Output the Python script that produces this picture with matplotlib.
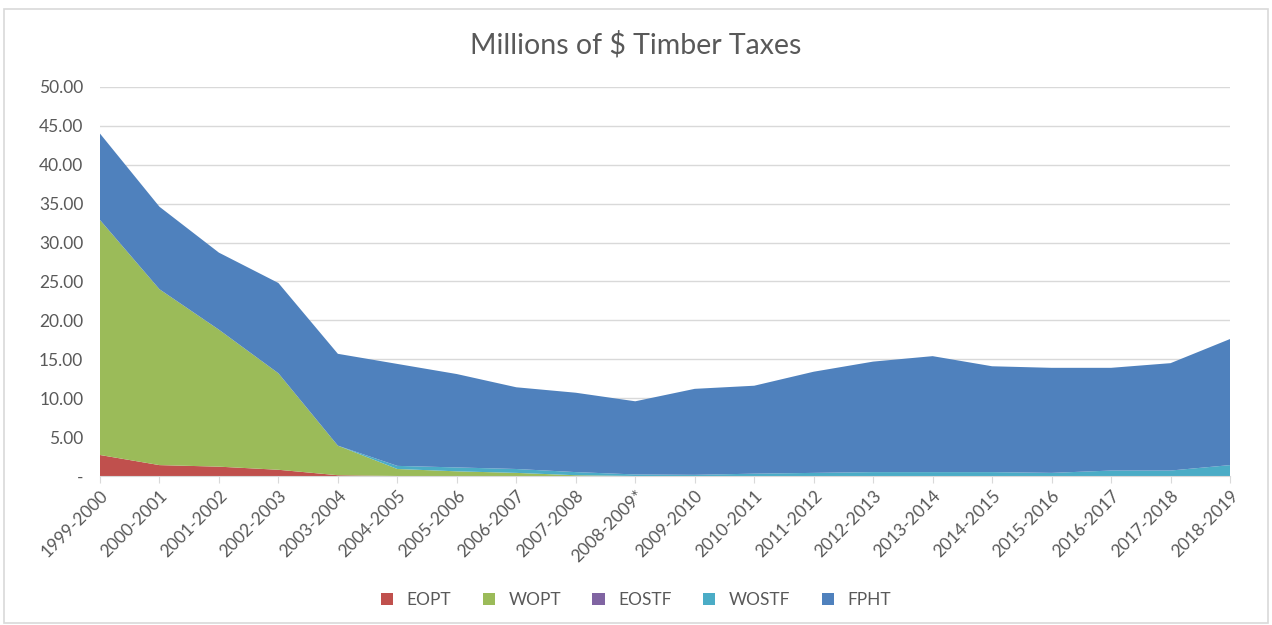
import numpy as np
import matplotlib
matplotlib.use('Agg')
from matplotlib import pyplot as plt
from matplotlib.patches import Rectangle

plt.rcParams['font.family'] = ['Lato', 'DejaVu Sans']

years = ['1999-2000', '2000-2001', '2001-2002', '2002-2003', '2003-2004',
         '2004-2005', '2005-2006', '2006-2007', '2007-2008', '2008-2009*',
         '2009-2010', '2010-2011', '2011-2012', '2012-2013', '2013-2014',
         '2014-2015', '2015-2016', '2016-2017', '2017-2018', '2018-2019']

eopt = [2.7, 1.4, 1.2, 0.8, 0.1, 0, 0, 0, 0, 0, 0, 0, 0, 0, 0, 0, 0, 0, 0, 0]
wopt = [30.2, 22.6, 17.6, 12.4, 3.8, 0.9, 0.6, 0.4, 0.1, 0, 0, 0, 0, 0, 0, 0, 0, 0, 0, 0]
eostf = [0, 0, 0, 0, 0, 0, 0, 0, 0, 0, 0, 0, 0, 0, 0, 0, 0, 0, 0, 0]
wostf = [0, 0, 0, 0, 0, 0.4, 0.5, 0.5, 0.4, 0.2, 0.15, 0.3, 0.4, 0.5, 0.5, 0.5, 0.4, 0.7, 0.7, 1.4]
fpht = [11.1, 10.6, 9.9, 11.6, 11.8, 13.1, 12.0, 10.5, 10.2, 9.4,
        11.05, 11.3, 13.0, 14.2, 14.9, 13.6, 13.5, 13.2, 13.8, 16.2]

names = ['EOPT', 'WOPT', 'EOSTF', 'WOSTF', 'FPHT']
colors = ['#C0504D', '#9BBB59', '#8064A2', '#4BACC6', '#4F81BD']

fig = plt.figure(figsize=(12.72, 6.25), dpi=100)
fig.patches.append(Rectangle((0.003, 0.003), 0.994, 0.982, transform=fig.transFigure,
                             fill=False, edgecolor='#D9D9D9', linewidth=1.2))
ax = fig.add_axes([0.0786, 0.2384, 0.8884, 0.6226])

x = np.arange(len(years))
ax.stackplot(x, eopt, wopt, eostf, wostf, fpht, labels=names, colors=colors, linewidth=0)

ax.set_xlim(0, len(years) - 1)
ax.set_ylim(0, 50)
ax.set_yticks(np.arange(0, 51, 5))
ax.set_yticklabels(['-'] + ['%.2f' % v for v in np.arange(5, 51, 5)])
ax.set_xticks(x)
ax.set_xticklabels(years, rotation=45, ha='right', rotation_mode='anchor')
ax.grid(axis='y', color='#D9D9D9', linewidth=1)
ax.set_axisbelow(True)
for s in ['top', 'right', 'left']:
    ax.spines[s].set_visible(False)
ax.spines['bottom'].set_color('#D9D9D9')
ax.tick_params(axis='y', length=0, colors='#595959', labelsize=12.5, pad=12)
ax.tick_params(axis='x', length=5, color='#D9D9D9', colors='#595959', labelsize=12.5)

fig.text(0.5, 0.928, 'Millions of $ Timber Taxes', ha='center', va='center',
         fontsize=20.5, color='#595959')

h, l = ax.get_legend_handles_labels()
fig.legend(h, l, loc='center', bbox_to_anchor=(0.5, 0.04), ncol=5, frameon=False,
           fontsize=12.5, labelcolor='#595959', handlelength=0.7, handleheight=0.7,
           columnspacing=1.8)

fig.savefig('out.png', dpi=100)
